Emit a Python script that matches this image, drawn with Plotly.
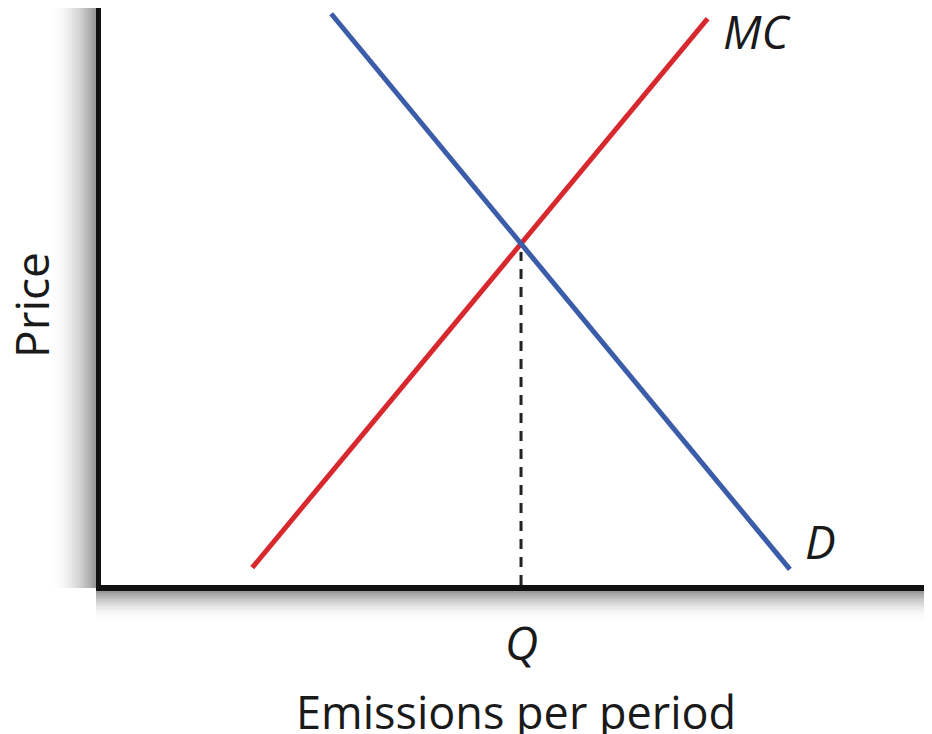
import numpy as np
import plotly.graph_objects as go

# curve end points (quantity, price)
mc_q = [1.82, 7.30]
mc_p = [0.21, 6.87]
d_q = [2.77, 8.29]
d_p = [6.93, 0.19]

curve_labels = ["MC", "D"]
label_q = [7.89, 8.66]
label_p = [6.72, 0.53]

x_title = "Emissions per period"
y_title = "Price"
q_label = "Q"

# where the two lines cross
m1 = (mc_p[1] - mc_p[0]) / (mc_q[1] - mc_q[0])
m2 = (d_p[1] - d_p[0]) / (d_q[1] - d_q[0])
q_eq = (d_p[0] - mc_p[0] + m1 * mc_q[0] - m2 * d_q[0]) / (m1 - m2)
p_eq = mc_p[0] + m1 * (q_eq - mc_q[0])

# the page body adds an 8px margin, so the figure is a bit smaller than the window
OFF = 8
W, H = 932 - OFF, 734 - OFF
L, R, T, B = 101 - OFF, 0, 0, H - (585 - OFF)
FONT = "Open Sans"
INK = "#1a1a1a"

fig = go.Figure()

fig.add_trace(go.Scatter(x=[q_eq, q_eq], y=[0, p_eq - 0.1], mode="lines",
                         line=dict(color="#222222", width=3, dash="10px,8px"),
                         hoverinfo="skip"))
fig.add_trace(go.Scatter(x=mc_q, y=mc_p, mode="lines",
                         line=dict(color="#d7282d", width=5), hoverinfo="skip"))
fig.add_trace(go.Scatter(x=d_q, y=d_p, mode="lines",
                         line=dict(color="#3b5ca8", width=5), hoverinfo="skip"))

for txt, q, p in zip(curve_labels, label_q, label_p):
    fig.add_annotation(x=q, y=p, text="<i>%s</i>" % txt, showarrow=False,
                       xanchor="center", yanchor="middle",
                       font=dict(family=FONT, size=46, color=INK))

fig.add_annotation(x=q_eq, y=0, yref="y", text="<i>%s</i>" % q_label, showarrow=False,
                   xanchor="center", yanchor="middle", yshift=-57,
                   font=dict(family=FONT, size=46, color=INK))


def px_x(px):
    # page pixel -> paper fraction
    return (px - OFF - L) / (W - L - R)


def px_y(py):
    return (H - B - (py - OFF)) / (H - T - B)


fig.add_annotation(xref="paper", yref="paper", x=px_x(516), y=px_y(711),
                   text=x_title, showarrow=False, xanchor="center", yanchor="middle",
                   font=dict(family=FONT, size=45, color=INK))
fig.add_annotation(xref="paper", yref="paper", x=px_x(31), y=px_y(305),
                   text=y_title, showarrow=False, textangle=-90,
                   xanchor="center", yanchor="middle",
                   font=dict(family=FONT, size=46, color=INK))

# soft shadows round the frame
shapes = []
n = 23
for i in range(n):
    a = 0.4 * (1 - i / n) ** 2
    shapes.append(dict(type="rect", xref="paper", yref="paper", layer="below",
                       x0=px_x(96 - 2 * (i + 1)), x1=px_x(96 - 2 * i),
                       y0=px_y(588), y1=px_y(8), line=dict(width=0),
                       fillcolor="rgba(0,0,0,%.3f)" % a))
n2 = 15
for i in range(n2):
    a = 0.4 * (1 - i / n2) ** 2
    shapes.append(dict(type="rect", xref="paper", yref="paper", layer="below",
                       x0=px_x(96), x1=px_x(932),
                       y0=px_y(591 + 2 * (i + 1)), y1=px_y(591 + 2 * i),
                       line=dict(width=0), fillcolor="rgba(0,0,0,%.3f)" % a))

fig.update_layout(
    width=W, height=H,
    margin=dict(l=L, r=R, t=T, b=B),
    paper_bgcolor="white", plot_bgcolor="white",
    showlegend=False,
    shapes=shapes,
    xaxis=dict(range=[0, 10], showgrid=False, zeroline=False, showticklabels=False,
               ticks="", showline=True, linecolor="#111111", linewidth=6, fixedrange=True),
    yaxis=dict(range=[0, 7], showgrid=False, zeroline=False, showticklabels=False,
               ticks="", showline=True, linecolor="#111111", linewidth=5, fixedrange=True),
)

fig.write_html("out.html")
